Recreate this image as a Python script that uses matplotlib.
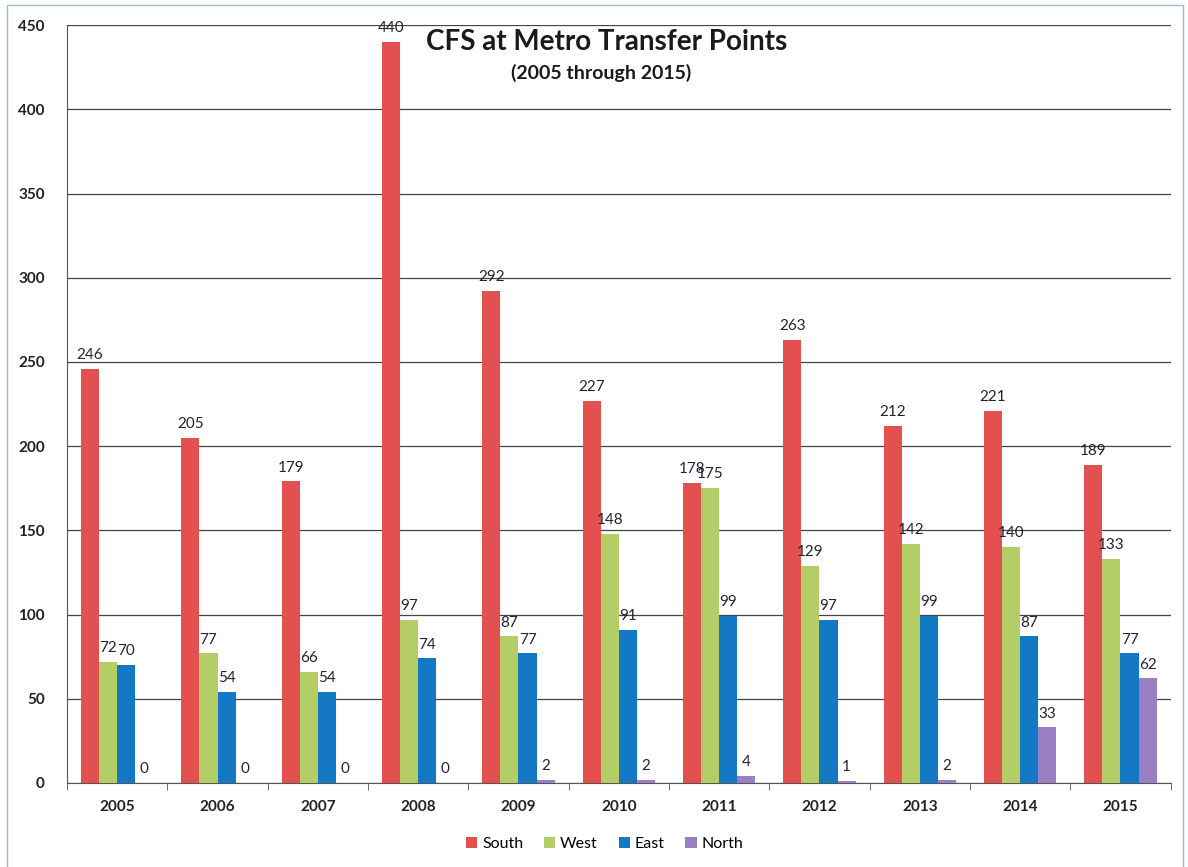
import matplotlib.pyplot as plt
import numpy as np
from matplotlib.patches import Rectangle

years = ["2005", "2006", "2007", "2008", "2009", "2010", "2011", "2012", "2013", "2014", "2015"]
south = [246, 205, 179, 440, 292, 227, 178, 263, 212, 221, 189]
west = [72, 77, 66, 97, 87, 148, 175, 129, 142, 140, 133]
east = [70, 54, 54, 74, 77, 91, 99, 97, 99, 87, 77]
north = [0, 0, 0, 0, 2, 2, 4, 1, 2, 33, 62]
series_names = ["South", "West", "East", "North"]
colors = ["#E2504F", "#B3CD67", "#1479C4", "#9A80C2"]

plt.rcParams['font.family'] = ['Lato', 'DejaVu Sans']

fig = plt.figure(figsize=(11.88, 8.67), dpi=100)
ax = fig.add_axes([0.0564, 0.097, 0.929, 0.874])

x = np.arange(len(years))
w = 0.18
data = [south, west, east, north]
for i, (vals, c, name) in enumerate(zip(data, colors, series_names)):
    pos = x + (i - 1.5) * w
    ax.bar(pos, vals, width=w, color=c, label=name, zorder=3)
    for p, v in zip(pos, vals):
        ax.text(p, v + 4, str(v), ha='center', va='bottom', fontsize=11,
                color='#222233', zorder=4)

ax.set_xlim(-0.5, len(years) - 0.5)
ax.set_ylim(0, 450)
ax.set_yticks(np.arange(0, 451, 50))
ax.yaxis.grid(True, color='#444444', linewidth=0.9, zorder=0)
ax.set_axisbelow(True)
ax.set_xticks(x)
ax.set_xticklabels(years, fontsize=11, fontweight='bold', color='#222222')
ax.tick_params(axis='x', length=0, pad=12)
ax.set_xticks(np.arange(-0.5, len(years), 1), minor=True)
ax.tick_params(axis='x', which='minor', length=5, color='#555555')
ax.tick_params(axis='y', labelsize=11, length=0, pad=16, labelcolor='#222222')
for lbl in ax.get_yticklabels():
    lbl.set_fontweight('bold')
for s in ['top', 'right']:
    ax.spines[s].set_visible(False)
ax.spines['left'].set_color('#555555')
ax.spines['bottom'].set_color('#555555')

fig.text(0.511, 0.952, "CFS at Metro Transfer Points", ha='center', va='center',
         fontsize=20, fontweight='bold', color='#1a1a1a')
fig.text(0.506, 0.916, "(2005 through 2015)", ha='center', va='center',
         fontsize=14, fontweight='bold', color='#1a1a1a')

fig.legend(loc='center', bbox_to_anchor=(0.509, 0.027), ncol=4, frameon=False,
           fontsize=11.5, handlelength=0.7, handleheight=0.7, handletextpad=0.3,
           columnspacing=1.3)

fig.patches.append(Rectangle((0.006, -0.01), 0.99, 1.004, transform=fig.transFigure,
                             fill=False, edgecolor='#9ab8d8', linewidth=1.0))

fig.savefig("out.png", dpi=100)
